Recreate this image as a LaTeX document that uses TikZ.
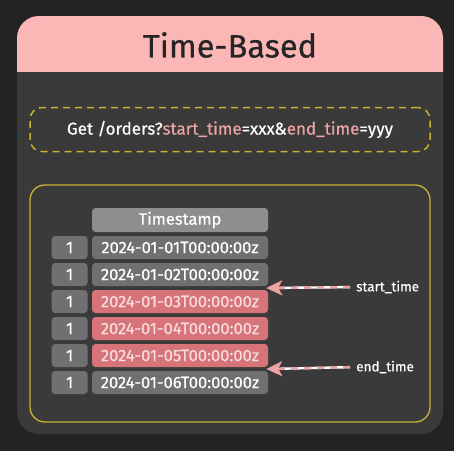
\documentclass[tikz,border=0pt]{standalone}
\usepackage{fontspec}
\setmainfont{Fira Sans}[FakeBold=0.5]
\usetikzlibrary{positioning,arrows.meta,calc}
\definecolor{bgdark}{HTML}{232323}
\definecolor{cardgrey}{HTML}{3A3A3A}
\definecolor{pinkhead}{HTML}{FBB6B6}
\definecolor{titleink}{HTML}{252525}
\definecolor{frameyellow}{HTML}{C9B132}
\definecolor{cellgrey}{HTML}{707070}
\definecolor{headgrey}{HTML}{8E8E8E}
\definecolor{hotred}{HTML}{D6747A}
\definecolor{hottext}{HTML}{F8DCDC}
\definecolor{keypink}{HTML}{EDA3A3}
\tikzset{
  tbox/.style={rounded corners=3.5pt, minimum height=23pt, inner sep=0pt,
    font=\fontsize{16.5}{16.5}\selectfont, text=white},
  cell/.style={tbox, fill=cellgrey, minimum width=176pt},
  hot/.style={cell, fill=hotred, text=hottext},
  idx/.style={tbox, fill=cellgrey, minimum width=36pt},
  lab/.style={font=\fontsize{13.5}{13.5}\selectfont, text=white, inner sep=0pt, anchor=west},
  marker/.style={keypink, line width=2.4pt, dash pattern=on 7pt off 6pt,
    -{Stealth[length=16pt,width=15pt,inset=4pt]}}
}
\begin{document}
\begin{tikzpicture}[x=1pt,y=-1pt]
  % background and card
  \fill[bgdark] (0,0) rectangle (454,451);
  \useasboundingbox (0,0) rectangle (454,451);
  \fill[cardgrey, rounded corners=22pt] (17,16) rectangle (443,434);
  \begin{scope}
    \clip (0,0) rectangle (454,71);
    \fill[pinkhead, rounded corners=22pt] (17,16) rectangle (443,434);
  \end{scope}
  \node[font=\fontsize{32.5}{32.5}\selectfont, text=titleink] (title) at (230,45) {Time-Based};

  % request line
  \node[draw=frameyellow, line width=1.5pt, dash pattern=on 7pt off 5pt,
    rounded corners=12pt, minimum width=400pt, minimum height=44pt,
    font=\fontsize{17}{17}\selectfont, text=white] (query) at (230,129.5)
    {Get /orders?\textcolor{keypink}{start\_time}=xxx\&\textcolor{keypink}{end\_time}=yyy};

  % table frame
  \draw[frameyellow, line width=1.3pt, rounded corners=15pt] (30,185) rectangle (430,422);

  % table
  \node[cell, fill=headgrey, minimum height=24pt] (head) at (180,220) {Timestamp};
  \foreach \i/\prev/\sty in {1/head/cell,2/r1/cell,3/r2/hot,4/r3/hot,5/r4/hot,6/r5/cell}{
    \node[\sty, below=3.6pt of \prev] (r\i) {2024-01-0{\i}T00:00:00z};
    \node[idx, left=4pt of r\i] (n\i) {1};
  }

  % range markers
  \node[lab] (st) at (356,287) {start\_time};
  \node[lab] (et) at (356,367) {end\_time};
  \coordinate (sttip) at ($(r2.south east)!0.5!(r3.north east)$);
  \coordinate (ettip) at ($(r5.south east)!0.5!(r6.north east)$);
  \foreach \from/\to in {st/sttip,et/ettip}{
    \draw[white, line width=2.4pt, shorten <=6pt, shorten >=12pt] (\from.west) -- (\to);
    \draw[marker, shorten <=6pt, shorten >=-2pt] (\from.west) -- (\to);
  }
\end{tikzpicture}
\end{document}
